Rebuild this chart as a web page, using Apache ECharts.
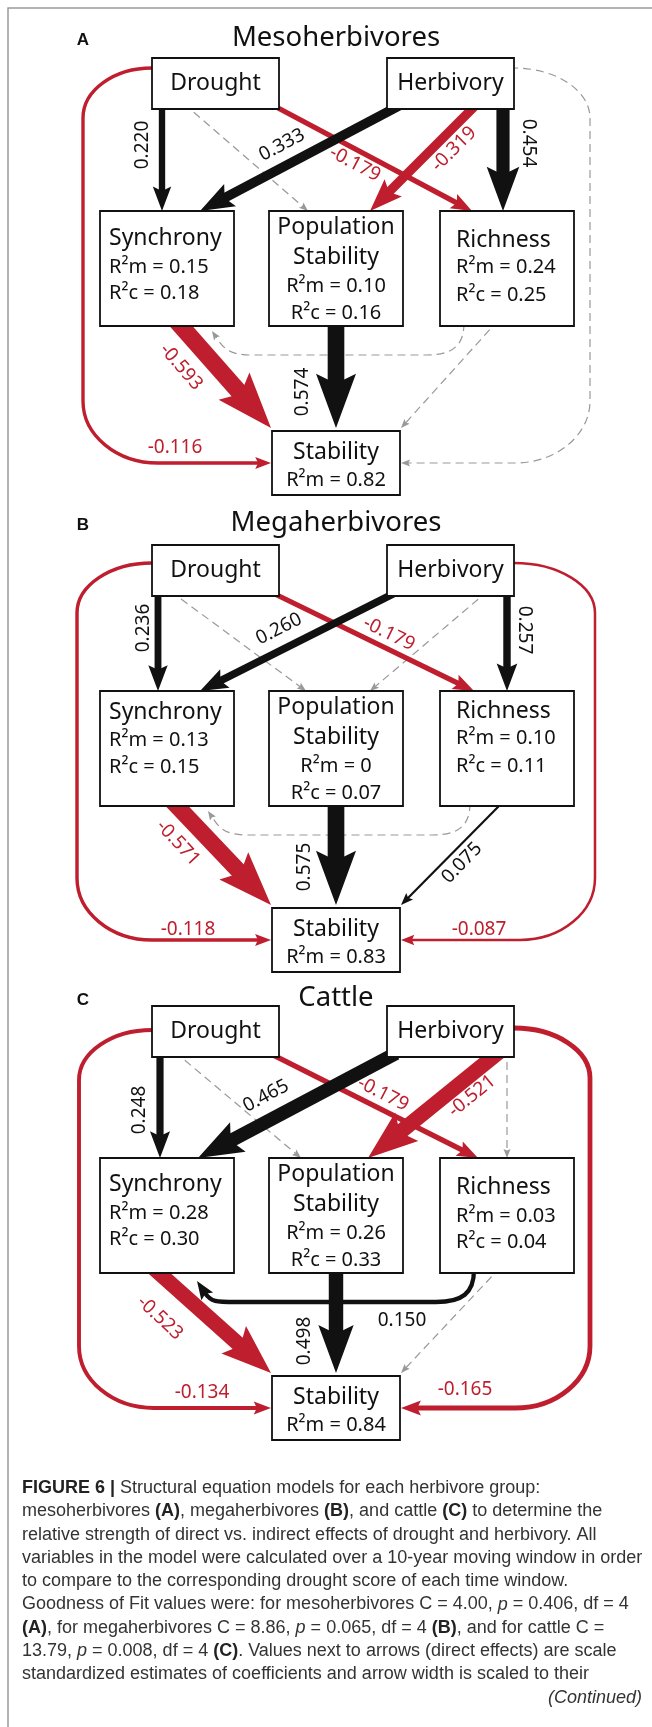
<!DOCTYPE html>
<html>
<head>
<meta charset="utf-8">
<script src="https://cdn.jsdelivr.net/npm/echarts@6/dist/echarts.min.js"></script>
<style>
  html, body { margin: 0; padding: 0; background: #fff; }
  #chart { width: 652px; height: 1727px; }
</style>
</head>
<body>
<div id="chart"></div>
<script>
// === data ===
const panelTitles = ['Mesoherbivores', 'Megaherbivores', 'Cattle']
const panelLetters = ['A', 'B', 'C']

// paths of the model (source>target)
const pathKeys = ['D>Sy', 'D>P', 'D>R', 'H>Sy', 'H>P', 'H>R', 'D>St', 'H>St', 'Sy>St', 'P>St', 'R>St', 'R>Sy']
// standardized coefficients, null = not significant (grey dashed)
const coefA = [0.220, null, -0.179, 0.333, -0.319, 0.454, -0.116, null, -0.593, 0.574, null, null]
const coefB = [0.236, null, -0.179, 0.260, null, 0.257, -0.118, -0.087, -0.571, 0.575, 0.075, null]
const coefC = [0.248, null, -0.179, 0.465, -0.521, null, -0.134, -0.165, -0.523, 0.498, null, 0.150]
const coefs = [coefA, coefB, coefC]

// R² values per panel
const r2mSynchrony = [0.15, 0.13, 0.28]
const r2cSynchrony = [0.18, 0.15, 0.30]
const r2mPopStab = [0.10, 0, 0.26]
const r2cPopStab = [0.16, 0.07, 0.33]
const r2mRichness = [0.24, 0.10, 0.03]
const r2cRichness = [0.25, 0.11, 0.04]
const r2mStability = [0.82, 0.83, 0.84]

const nodeKeys = ['D', 'H', 'Sy', 'P', 'R', 'St']

// === layout (diagram units on the hidden axes) ===
const boxCols = { D: [152, 279], H: [387, 514], Sy: [100, 234], P: [269, 403], R: [440, 574], St: [272, 400] }
const nodeRow = { D: 0, H: 0, Sy: 1, P: 1, R: 1, St: 2 }
const rowTops = [[58, 211, 431], [545, 691, 908], [1006, 1158, 1376]]
const rowHeights = [51, 115, 64]
const titleY = [38, 523, 998]

// x of arrow start (source bottom) and end (target top), per panel
const ports = {
  'D>Sy': [[162, 162], [158, 158], [160, 160]],
  'D>P': [[190, 308], [177, 306], [181, 301]],
  'D>R': [[280, 472], [279, 474], [277, 478]],
  'H>Sy': [[393, 200], [389, 200], [389, 198]],
  'H>P': [[472, 370], [482, 370], [493, 368]],
  'H>R': [[503, 503], [507, 507], [507, 507]],
  'Sy>St': [[181, 271], [177, 271], [159, 271]],
  'P>St': [[336, 336], [336, 336], [336, 336]],
  'R>St': [[493, 401], [499, 401], [495, 401]],
  'R>Sy': [[464, 212], [470, 208], [474, 197]]
}
const loopX = [[83, 590], [77, 595], [79, 590]]
const loopDy = [[10, 10], [18, 18], [24, 22]]

// label centre + rotation (deg) per panel and path index
const labelPos = [
  { 0: [143, 145, 90], 2: [355, 164, -28], 3: [282, 145, 28], 4: [454, 149, 45], 5: [528, 143, -90],
    6: [175, 448, 0], 8: [181, 367, -49], 9: [303, 392, 90] },
  { 0: [144, 628, 90], 2: [389, 634, -26], 3: [279, 629, 27], 5: [524, 630, -90], 6: [188, 930, 0],
    7: [479, 930, 0], 8: [178, 843, -47], 9: [305, 867, 90], 10: [462, 863, 46] },
  { 0: [140, 1110, 90], 2: [383, 1094, -27], 3: [266, 1096, 28], 4: [472, 1096, 39], 6: [202, 1393, 0],
    7: [465, 1390, 0], 8: [160, 1318, -43], 9: [305, 1341, 90], 11: [402, 1321, 0] }
]

const RED = '#be1e2d'
const BLACK = '#111111'
const GREY = '#999999'
const FONT = '"Noto Sans", "DejaVu Sans", sans-serif'
const CAP_FONT = '"Liberation Sans", Arial, sans-serif'

const box = (p, n) => {
  const [x0, x1] = boxCols[n]
  const r = nodeRow[n]
  const y0 = rowTops[p][r]
  return { x0, x1, y0, y1: y0 + rowHeights[r] }
}
const fmt = v => (v === 0 ? '0' : v.toFixed(2))

// edges data: [panel, pathIndex, coef, significant]
const edgeData = []
coefs.forEach((arr, p) => {
  arr.forEach((c, k) => {
    edgeData.push({ value: [p, k, c == null ? 0 : c, c == null ? 0 : 1] })
  })
})
// dashed first so solid arrows are drawn over them
edgeData.sort((a, b) => a.value[3] - b.value[3])

const nodeData = []
for (let p = 0; p < 3; p++) nodeKeys.forEach((n, i) => nodeData.push({ value: [p, i] }))

// === drawing helpers ===
function headPoly(api, T, u, hl, hw, color) {
  const n = [-u[1], u[0]]
  const pts = [
    T,
    [T[0] - u[0] * hl + n[0] * hw / 2, T[1] - u[1] * hl + n[1] * hw / 2],
    [T[0] - u[0] * hl * 0.82, T[1] - u[1] * hl * 0.82],
    [T[0] - u[0] * hl - n[0] * hw / 2, T[1] - u[1] * hl - n[1] * hw / 2]
  ].map(q => api.coord(q))
  return { type: 'polygon', shape: { points: pts }, style: { fill: color, stroke: null } }
}

function renderEdge(params, api) {
  const p = api.value(0), k = api.value(1), c = api.value(2), sig = api.value(3)
  const key = pathKeys[k]
  const [src, dst] = key.split('>')
  const w = sig ? Math.max(1.6, 29 * Math.abs(c)) : 1.2
  const color = !sig ? GREY : (c < 0 ? RED : BLACK)
  const hl = sig ? 6 + 2.9 * w : 9
  const hw = sig ? 5 + 2.1 * w : 7
  const dash = sig ? null : [8, 5]
  const lineStyle = { stroke: color, lineWidth: w, fill: 'none', lineDash: dash }
  const children = []
  const P = (x, y) => api.coord([x, y]).join(' ')
  const sb = box(p, src), tb = box(p, dst)

  if (key === 'D>St' || key === 'H>St') {
    // loop around the side of the panel
    const left = key === 'D>St'
    const s = left ? -1 : 1
    const bx = left ? sb.x0 : sb.x1
    const sy = sb.y0 + loopDy[p][left ? 0 : 1]
    const xl = loopX[p][left ? 0 : 1]
    const ey = (tb.y0 + tb.y1) / 2
    const T = [left ? tb.x0 - 1 : tb.x1 + 1, ey]
    const u = [-s, 0]
    const xe = T[0] - u[0] * hl * 0.75
    const rx = Math.abs(bx - xl), ry1 = 50, rx2 = 75, ry2 = 62, kk = 0.5523
    const d = 'M' + P(bx - s * 4, sy) +
      ' L' + P(bx, sy) +
      ' C' + P(bx + s * kk * rx, sy) + ' ' + P(xl, sy + ry1 - kk * ry1) + ' ' + P(xl, sy + ry1) +
      ' L' + P(xl, ey - ry2) +
      ' C' + P(xl, ey - ry2 + kk * ry2) + ' ' + P(xl - s * (rx2 - kk * rx2), ey) + ' ' + P(xl - s * rx2, ey) +
      ' L' + P(xe, ey)
    children.push({ type: 'path', shape: { pathData: d }, style: lineStyle })
    children.push(headPoly(api, T, u, hl, hw, color))
  } else if (key === 'R>Sy') {
    // U-shaped path under the middle row
    const [sx, ex] = ports[key][p]
    const yh = sb.y1 + 29
    const u = [-0.55, -0.83]
    const T = [ex, tb.y1 + (sig ? 8 : 5)]
    const B = [T[0] - u[0] * hl * 0.75, T[1] - u[1] * hl * 0.75]
    const d = 'M' + P(sx, sb.y1 - 3) +
      ' C' + P(sx, sb.y1 + (yh - sb.y1) * 0.7) + ' ' + P(sx - 12, yh) + ' ' + P(sx - 38, yh) +
      ' L' + P(B[0] + 35, yh) +
      ' C' + P(B[0] + 12, yh) + ' ' + P(B[0] - u[0] * 12, B[1] - u[1] * 12) + ' ' + P(B[0], B[1])
    children.push({ type: 'path', shape: { pathData: d }, style: lineStyle })
    children.push(headPoly(api, T, u, hl, hw, color))
  } else {
    const [fx, tx] = ports[key][p]
    const S = [fx, sb.y1]
    const T = [tx, dst === 'St' ? tb.y0 - 3 : tb.y0]
    const len = Math.hypot(T[0] - S[0], T[1] - S[1])
    const u = [(T[0] - S[0]) / len, (T[1] - S[1]) / len]
    const S0 = [S[0] - u[0] * 8, S[1] - u[1] * 8] // starts under the source box
    const E = [T[0] - u[0] * hl * 0.75, T[1] - u[1] * hl * 0.75]
    const a = api.coord(S0), b = api.coord(E)
    children.push({ type: 'line', shape: { x1: a[0], y1: a[1], x2: b[0], y2: b[1] }, style: lineStyle })
    children.push(headPoly(api, T, u, hl, hw, color))
  }

  const lp = labelPos[p][k]
  if (sig && lp) {
    const q = api.coord([lp[0], lp[1]])
    children.push({
      type: 'text', x: q[0], y: q[1], rotation: lp[2] * Math.PI / 180,
      style: {
        text: c.toFixed(3), fontSize: 19, fontFamily: FONT,
        fill: c < 0 ? RED : BLACK, align: 'center', verticalAlign: 'middle'
      }
    })
  }
  return { type: 'group', children }
}

function renderNode(params, api) {
  const p = api.value(0), n = nodeKeys[api.value(1)]
  const b = box(p, n)
  const tl = api.coord([b.x0, b.y0]), br = api.coord([b.x1, b.y1])
  const children = [{
    type: 'rect',
    shape: { x: tl[0], y: tl[1], width: br[0] - tl[0], height: br[1] - tl[1] },
    style: { fill: '#fff', stroke: BLACK, lineWidth: 1.8 }
  }]
  const cx = (b.x0 + b.x1) / 2
  let lines = []
  if (n === 'D' || n === 'H') {
    lines = [[n === 'D' ? 'Drought' : 'Herbivory', cx, (b.y0 + b.y1) / 2, 23, 'center']]
  } else if (n === 'Sy') {
    const dy = [[27, 56, 82], [21, 49, 76], [26, 55, 81]][p]
    lines = [['Synchrony', b.x0 + 9, b.y0 + dy[0], 23, 'left'],
      ['R²m = ' + fmt(r2mSynchrony[p]), b.x0 + 9, b.y0 + dy[1], 20, 'left'],
      ['R²c = ' + fmt(r2cSynchrony[p]), b.x0 + 9, b.y0 + dy[2], 20, 'left']]
  } else if (n === 'R') {
    const dy = [[29, 56, 84], [20, 47, 75], [29, 58, 84]][p]
    lines = [['Richness', b.x0 + 16, b.y0 + dy[0], 23, 'left'],
      ['R²m = ' + fmt(r2mRichness[p]), b.x0 + 16, b.y0 + dy[1], 20, 'left'],
      ['R²c = ' + fmt(r2cRichness[p]), b.x0 + 16, b.y0 + dy[2], 20, 'left']]
  } else if (n === 'P') {
    lines = [['Population', cx, b.y0 + 16, 23, 'center'],
      ['Stability', cx, b.y0 + 46, 23, 'center'],
      ['R²m = ' + fmt(r2mPopStab[p]), cx, b.y0 + 75, 20, 'center'],
      ['R²c = ' + fmt(r2cPopStab[p]), cx, b.y0 + 102, 20, 'center']]
  } else {
    lines = [['Stability', cx, b.y0 + 21, 23, 'center'],
      ['R²m = ' + fmt(r2mStability[p]), cx, b.y0 + 49, 20, 'center']]
  }
  lines.forEach(([t, x, y, fs, al]) => {
    const q = api.coord([x, y])
    children.push({
      type: 'text', x: q[0], y: q[1],
      style: { text: t, fontSize: fs, fontFamily: FONT, fill: BLACK, align: al, verticalAlign: 'middle' }
    })
  })
  return { type: 'group', children }
}

// caption lines (rich text)
const captionLines = [
  '{b|FIGURE 6 |} Structural equation models for each herbivore group:',
  'mesoherbivores {b|(A)}, megaherbivores {b|(B)}, and cattle {b|(C)} to determine the',
  'relative strength of direct vs. indirect effects of drought and herbivory. All',
  'variables in the model were calculated over a 10-year moving window in order',
  'to compare to the corresponding drought score of each time window.',
  'Goodness of Fit values were: for mesoherbivores C = 4.00, {i|p} = 0.406, df = 4',
  '{b|(A)}, for megaherbivores C = 8.86, {i|p} = 0.065, df = 4 {b|(B)}, and for cattle C =',
  '13.79, {i|p} = 0.008, df = 4 {b|(C)}. Values next to arrows (direct effects) are scale',
  'standardized estimates of coefficients and arrow width is scaled to their'
]
const CAP_SIZE = 18
const capRich = {
  b: { fontWeight: 'bold', fontSize: CAP_SIZE, fontFamily: CAP_FONT, fill: '#222' },
  i: { fontStyle: 'italic', fontSize: CAP_SIZE, fontFamily: CAP_FONT, fill: '#333' }
}

const graphics = [
  { type: 'polyline', shape: { points: [[8, 1727], [8, 8], [652, 8]] }, style: { stroke: '#9a9a9a', lineWidth: 1.5, fill: null } }
]
panelTitles.forEach((t, p) => {
  graphics.push({ type: 'text', x: 336, y: titleY[p], style: { text: t, fontSize: 27.5, fontFamily: FONT, fill: BLACK, align: 'center', verticalAlign: 'middle' } })
  graphics.push({ type: 'text', x: 83, y: titleY[p] + 2, style: { text: panelLetters[p], fontSize: 17, fontWeight: 'bold', fontFamily: CAP_FONT, fill: BLACK, align: 'center', verticalAlign: 'middle' } })
})
captionLines.forEach((t, i) => {
  graphics.push({ type: 'text', x: 22, y: 1488 + i * 23.3, style: { text: t, rich: capRich, fontSize: CAP_SIZE, fontFamily: CAP_FONT, fill: '#333', align: 'left', verticalAlign: 'middle' } })
})
graphics.push({ type: 'text', x: 642, y: 1698, style: { text: '(Continued)', fontSize: CAP_SIZE, fontStyle: 'italic', fontFamily: CAP_FONT, fill: '#333', align: 'right', verticalAlign: 'middle' } })

const chart = echarts.init(document.getElementById('chart'))
chart.setOption({
  animation: false,
  backgroundColor: '#fff',
  grid: { left: 0, right: 0, top: 0, bottom: 0 },
  xAxis: { type: 'value', min: 0, max: 652, show: false },
  yAxis: { type: 'value', min: 0, max: 1727, inverse: true, show: false },
  graphic: graphics,
  series: [
    { type: 'custom', name: 'paths', coordinateSystem: 'cartesian2d', clip: false, z: 2, renderItem: renderEdge, data: edgeData },
    { type: 'custom', name: 'variables', coordinateSystem: 'cartesian2d', clip: false, z: 3, renderItem: renderNode, data: nodeData }
  ]
})
</script>
</body>
</html>
